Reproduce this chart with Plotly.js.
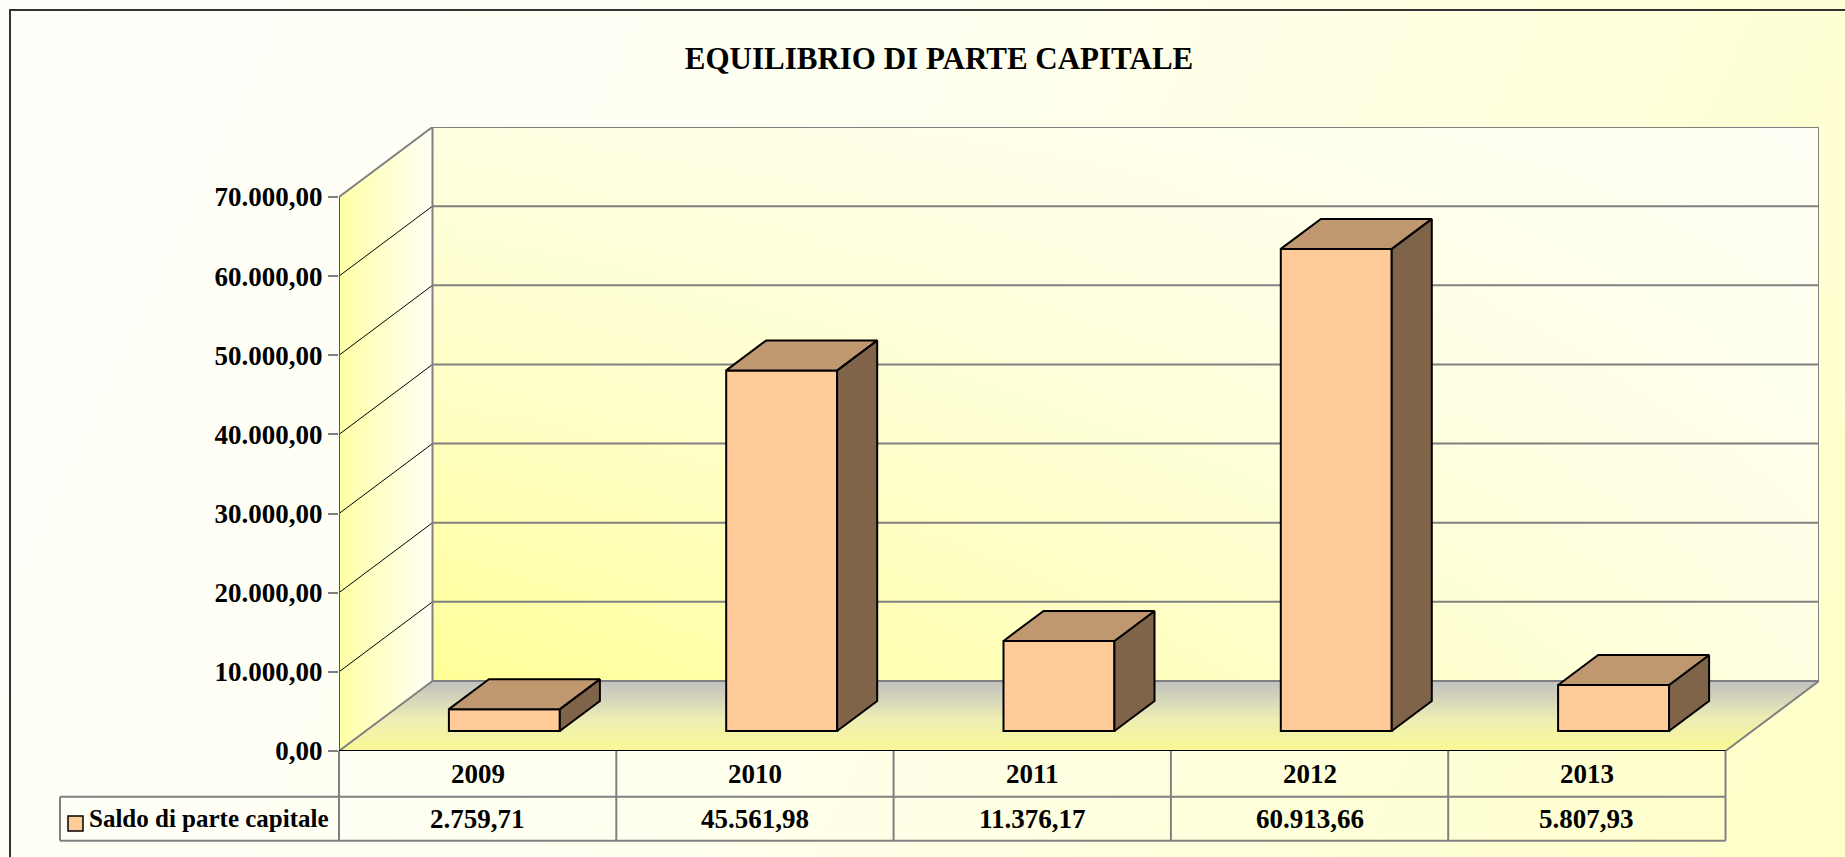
<!DOCTYPE html>
<html>
<head>
<meta charset="utf-8">
<script src="https://cdn.plot.ly/plotly-3.0.1.min.js"></script>
<style>
  html, body { margin:0; padding:0; width:1845px; height:857px; overflow:hidden; }
  body { background: linear-gradient(115deg, #FEFEFB 0%, #FFFFF0 45%, #FFFFD6 80%, #FFFFC8 100%); }
  #frame { position:absolute; left:9px; top:9px; width:1900px; height:900px;
           border-left:2px solid #333; border-top:2px solid #333; box-sizing:border-box; }
  #chart { position:absolute; left:0; top:0; width:1845px; height:857px; }
</style>
</head>
<body>
<div id="frame"></div>
<div id="chart"></div>
<script>
// ---------- data ----------
const years = ['2009', '2010', '2011', '2012', '2013'];
const saldo = [2759.71, 45561.98, 11376.17, 60913.66, 5807.93];
const seriesName = 'Saldo di parte capitale';
const chartTitle = 'EQUILIBRIO DI PARTE CAPITALE';
const yMaxTick = 70000;
const yStep = 10000;

// ---------- geometry / style ----------
const W = 1845, H = 857;
const M = { l: 339, r: 26, t: 127, b: 106 };
const plotW = W - M.l - M.r, plotH = H - M.t - M.b;
const depthPx = 70;                       // vertical depth of the 3D box in px
const DY = depthPx / (plotH - depthPx) * yMaxTick;
const N = years.length;
const colPx = 277.3;
const DX = plotW / colPx - N;             // horizontal depth in category units
const XR = [0, N + DX], YR = [0, yMaxTick + DY];
const z1 = 2 / 7, z2 = 5 / 7;             // bar front/back depth fractions
const barW = 0.4;
const FONT = 'Liberation Serif, Times New Roman, serif';

function fmtIt(v) {
  const p = v.toFixed(2).split('.');
  p[0] = p[0].replace(/\B(?=(\d{3})+(?!\d))/g, '.');
  return p[0] + ',' + p[1];
}
const xp = x => (x - XR[0]) / (XR[1] - XR[0]);     // data x -> paper
const pxX = px => (px - M.l) / plotW;              // pixel x -> paper
const pxY = py => (H - M.b - py) / plotH;          // pixel y -> paper

const traces = [];

// side wall
traces.push({
  type: 'scatter', mode: 'none', x: [0, DX, DX, 0, 0], y: [0, DY, yMaxTick + DY, yMaxTick, 0],
  fill: 'toself', hoverinfo: 'skip',
  fillgradient: { type: 'horizontal', start: 0, stop: DX, colorscale: [[0, '#FFFFA6'], [1, '#FFFFF7']] }
});
// back wall (vertical gradient + horizontal whitening)
traces.push({
  type: 'scatter', mode: 'none', x: [DX, N + DX, N + DX, DX, DX], y: [DY, DY, yMaxTick + DY, yMaxTick + DY, DY],
  fill: 'toself', hoverinfo: 'skip',
  fillgradient: { type: 'vertical', start: DY, stop: yMaxTick + DY, colorscale: [[0, '#FFFF98'], [0.5, '#FFFFC4'], [1, '#FFFFE2']] }
});
traces.push({
  type: 'scatter', mode: 'none', x: [DX, N + DX, N + DX, DX, DX], y: [DY, DY, yMaxTick + DY, yMaxTick + DY, DY],
  fill: 'toself', hoverinfo: 'skip',
  fillgradient: { type: 'horizontal', start: DX, stop: N + DX, colorscale: [[0, 'rgba(255,255,255,0)'], [1, 'rgba(255,255,252,0.75)']] }
});
// floor
traces.push({
  type: 'scatter', mode: 'none', x: [0, N, N + DX, DX, 0], y: [0, 0, DY, DY, 0],
  fill: 'toself', hoverinfo: 'skip',
  fillgradient: { type: 'vertical', start: 0, stop: DY, colorscale: [[0, '#F9F996'], [0.45, '#EEEEB4'], [1, '#C0C0C0']] }
});

// grid lines on back wall and side wall
const gx = [], gy = [], sx = [], sy = [];
for (let v = yStep; v < yMaxTick; v += yStep) {
  gx.push(DX, N + DX, null); gy.push(v + DY, v + DY, null);
  sx.push(0, DX, null); sy.push(v, v + DY, null);
}
traces.push({ type: 'scatter', mode: 'lines', x: gx, y: gy, line: { color: '#808080', width: 2 }, hoverinfo: 'skip' });
traces.push({ type: 'scatter', mode: 'lines', x: sx, y: sy, line: { color: '#000000', width: 1 }, hoverinfo: 'skip' });
// box edges (gray)
traces.push({
  type: 'scatter', mode: 'lines', hoverinfo: 'skip', line: { color: '#808080', width: 2 },
  x: [0, DX, N + DX, N + DX, null, DX, DX, N + DX, null, 0, DX, null, N, N + DX],
  y: [yMaxTick, yMaxTick + DY, yMaxTick + DY, DY, null, yMaxTick + DY, DY, DY, null, 0, DY, null, 0, DY]
});
// front axis + front floor edge
traces.push({ type: 'scatter', mode: 'lines', x: [0, 0], y: [0, yMaxTick], line: { color: '#555555', width: 2 }, hoverinfo: 'skip' });
traces.push({ type: 'scatter', mode: 'lines', x: [0, N], y: [0, 0], line: { color: '#000000', width: 2 }, hoverinfo: 'skip' });

// bars (front faces) on overlay axes
const bx = years.map((_, i) => i + 0.5 + z1 * DX);
traces.push({
  type: 'bar', x: bx, y: saldo, base: saldo.map(() => z1 * DY), width: barW,
  xaxis: 'x2', yaxis: 'y2', name: seriesName,
  marker: { color: '#FFCC99', line: { color: '#000', width: 2 } }, hoverinfo: 'skip'
});
// top and side faces
saldo.forEach((v, i) => {
  const xl = i + 0.5 - barW / 2, xr = i + 0.5 + barW / 2;
  const a = z1 * DX, b = z2 * DX, c = z1 * DY, d = z2 * DY;
  traces.push({
    type: 'scatter', mode: 'lines', xaxis: 'x2', yaxis: 'y2', hoverinfo: 'skip',
    x: [xr + a, xr + b, xr + b, xr + a, xr + a], y: [c, d, v + d, v + c, c],
    fill: 'toself', fillcolor: '#80644A', line: { color: '#000', width: 2 }
  });
  traces.push({
    type: 'scatter', mode: 'lines', xaxis: 'x2', yaxis: 'y2', hoverinfo: 'skip',
    x: [xl + a, xr + a, xr + b, xl + b, xl + a], y: [v + c, v + c, v + d, v + d, v + c],
    fill: 'toself', fillcolor: '#C09870', line: { color: '#000', width: 2 }
  });
});

// data table
const rowTop = 751, row1 = 796.7, row2 = 840.7, legendLeft = 60;
const shapes = [];
const gray = { color: '#808080', width: 2 };
shapes.push({ type: 'line', xref: 'paper', yref: 'paper', x0: pxX(legendLeft), x1: xp(N), y0: pxY(row1), y1: pxY(row1), line: gray });
shapes.push({ type: 'line', xref: 'paper', yref: 'paper', x0: pxX(legendLeft), x1: xp(N), y0: pxY(row2), y1: pxY(row2), line: gray });
shapes.push({ type: 'line', xref: 'paper', yref: 'paper', x0: pxX(legendLeft), x1: pxX(legendLeft), y0: pxY(row1), y1: pxY(row2), line: gray });
for (let k = 0; k <= N; k++) {
  shapes.push({ type: 'line', xref: 'paper', yref: 'paper', x0: xp(k), x1: xp(k), y0: pxY(rowTop), y1: pxY(row2), line: gray });
}
// legend swatch
shapes.push({ type: 'rect', xref: 'paper', yref: 'paper', x0: pxX(68), x1: pxX(83), y0: pxY(816), y1: pxY(831),
  fillcolor: '#FFCC99', line: { color: '#000', width: 1.5 } });

const annotations = [];
const tfont = { family: FONT, size: 27, color: '#000', weight: 'bold' };
years.forEach((yr, i) => {
  annotations.push({ xref: 'x', yref: 'paper', x: i + 0.5, y: pxY((rowTop + row1) / 2), text: yr, showarrow: false, font: tfont, xanchor: 'center', yanchor: 'middle' });
  annotations.push({ xref: 'x', yref: 'paper', x: i + 0.5, y: pxY((row1 + row2) / 2), text: fmtIt(saldo[i]), showarrow: false, font: tfont, xanchor: 'center', yanchor: 'middle' });
});
annotations.push({ xref: 'paper', yref: 'paper', x: pxX(87), y: pxY((row1 + row2) / 2), text: seriesName, showarrow: false,
  font: { family: FONT, size: 25, color: '#000', weight: 'bold' }, xanchor: 'left', yanchor: 'middle' });

const layout = {
  width: W, height: H,
  margin: M,
  paper_bgcolor: 'rgba(0,0,0,0)', plot_bgcolor: 'rgba(0,0,0,0)',
  separators: ',.',
  showlegend: false, hovermode: false,
  title: { text: chartTitle, x: 939 / W, xanchor: 'center', xref: 'container', y: 1 - 58 / H, yanchor: 'middle', yref: 'container',
    font: { family: FONT, size: 31, color: '#000', weight: 'bold' } },
  xaxis: { range: XR, visible: false, fixedrange: true },
  yaxis: { range: YR, tick0: 0, dtick: yStep, tickformat: ',.2f', ticks: 'outside', ticklen: 10, tickwidth: 2, tickcolor: '#808080',
    showgrid: false, zeroline: false, showline: false, fixedrange: true,
    tickfont: { family: FONT, size: 27, color: '#000', weight: 'bold' } },
  xaxis2: { range: XR, visible: false, overlaying: 'x', anchor: 'y2', fixedrange: true },
  yaxis2: { range: YR, visible: false, overlaying: 'y', anchor: 'x2', fixedrange: true },
  shapes: shapes,
  annotations: annotations
};

Plotly.newPlot('chart', traces, layout, { displayModeBar: false, staticPlot: true });
</script>
</body>
</html>
